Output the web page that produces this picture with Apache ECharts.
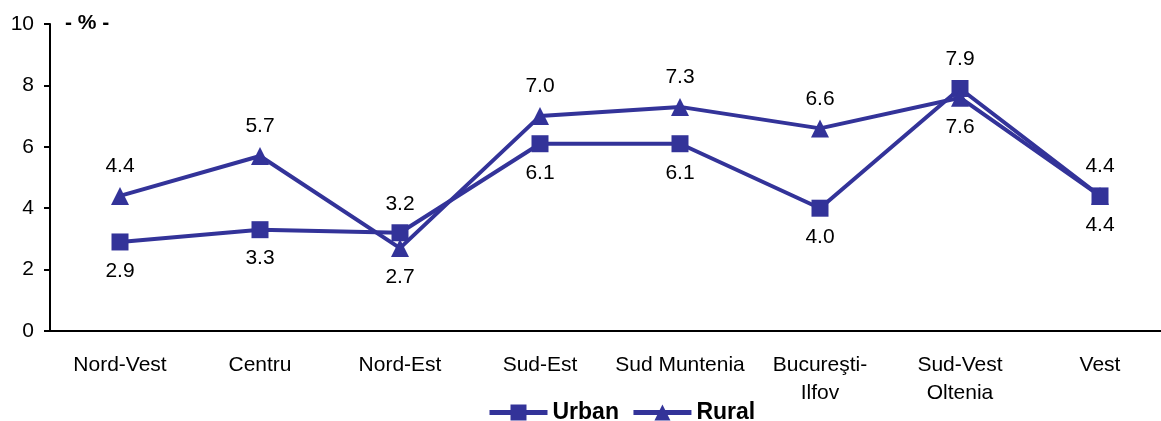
<!DOCTYPE html>
<html><head><meta charset="utf-8">
<script src="https://cdn.jsdelivr.net/npm/echarts@6/dist/echarts.min.js"></script>
<style>html,body{margin:0;padding:0;background:#fff;overflow:hidden}#c{width:1172px;height:421px}</style>
</head><body><div id="c"></div>
<script>
const categories = ['Nord-Vest','Centru','Nord-Est','Sud-Est','Sud Muntenia','Bucureşti-\nIlfov','Sud-Vest\nOltenia','Vest'];
const urban = [2.9, 3.3, 3.2, 6.1, 6.1, 4.0, 7.9, 4.4];
const rural = [4.4, 5.7, 2.7, 7.0, 7.3, 6.6, 7.6, 4.4];
const urbanLabelPos = ['bottom','bottom','top','bottom','bottom','bottom','top','bottom'];
const ruralLabelPos = ['top','top','bottom','top','top','top','bottom','top'];
const yTicks = [0, 2, 4, 6, 8, 10];

const C = '#333399';
const font = 'Liberation Sans, Arial, sans-serif';
function mk(vals, pos) {
  return vals.map((v, i) => ({ value: v, label: { position: pos[i] } }));
}
const chart = echarts.init(document.getElementById('c'), null, {renderer: 'canvas'});
chart.setOption({
  animation: false,
  textStyle: { fontFamily: font },
  grid: { left: 50, top: 24, width: 1120, height: 307, containLabel: false },
  graphic: [{ type: 'text', left: 65, top: 13, style: { text: '- % -', font: 'bold 21px ' + font, fill: '#000' } }],
  legend: {
    top: 396, left: 482,
    itemWidth: 58, itemHeight: 20, itemGap: 12,
    lineStyle: { width: 5 },
    textStyle: { fontSize: 23, fontWeight: 'bold', color: '#000', fontFamily: font },
    data: ['Urban', 'Rural']
  },
  xAxis: {
    type: 'category', data: categories, boundaryGap: true,
    axisLine: { lineStyle: { color: '#000', width: 2 } },
    axisTick: { length: 6, lineStyle: { color: '#000', width: 2 } },
    axisLabel: { color: '#000', fontSize: 21, margin: 20, lineHeight: 28, interval: 0, fontFamily: font }
  },
  yAxis: {
    type: 'value', min: 0, max: 10, interval: 2,
    splitLine: { show: false },
    axisLine: { show: true, lineStyle: { color: '#000', width: 2 } },
    axisTick: { show: true, length: 6, lineStyle: { color: '#000', width: 2 } },
    axisLabel: { color: '#000', fontSize: 21, margin: 16, fontFamily: font,
      formatter: v => yTicks.includes(v) ? String(v) : '' }
  },
  series: [
    { name: 'Urban', type: 'line', data: mk(urban, urbanLabelPos), symbol: 'rect', symbolSize: 17,
      itemStyle: { color: C }, lineStyle: { color: C, width: 4 },
      label: { show: true, distance: 10, fontSize: 21, color: '#000', fontFamily: font, formatter: p => p.value.toFixed(1) } },
    { name: 'Rural', type: 'line', data: mk(rural, ruralLabelPos), symbol: 'triangle', symbolSize: 18,
      itemStyle: { color: C }, lineStyle: { color: C, width: 4 },
      label: { show: true, distance: 10, fontSize: 21, color: '#000', fontFamily: font, formatter: p => p.value.toFixed(1) } }
  ]
});
</script></body></html>
